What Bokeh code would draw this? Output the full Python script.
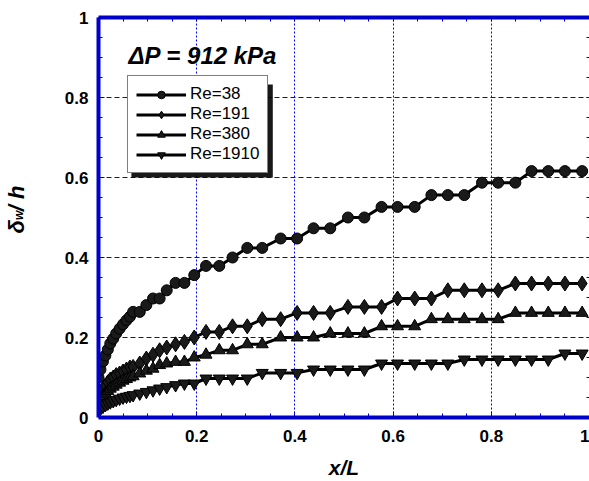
import math
from bokeh.plotting import figure
from bokeh.models import (Range1d, LinearAxis, Legend, LegendItem, Label,
                          BoxAnnotation, FixedTicker)
from bokeh.embed import file_html
from bokeh.resources import INLINE

# ---------------- data ----------------
x_pos = [0, 0.004, 0.009, 0.014, 0.019, 0.024, 0.030, 0.036, 0.043, 0.050,
         0.057, 0.064, 0.0705, 0.084, 0.0975, 0.111, 0.1245, 0.139, 0.157, 0.175,
         0.195, 0.219, 0.246, 0.273, 0.303, 0.3335, 0.371, 0.4045, 0.438, 0.472,
         0.508, 0.5415, 0.5765, 0.609, 0.644, 0.678, 0.7115, 0.745, 0.781, 0.814,
         0.849, 0.882, 0.916, 0.950, 0.985]

re38 = [0.10, 0.12, 0.14, 0.155, 0.17, 0.185, 0.197, 0.21, 0.222, 0.233,
        0.243, 0.252, 0.264, 0.264, 0.281, 0.2975, 0.2975, 0.318, 0.3365, 0.3365,
        0.356, 0.379, 0.379, 0.400, 0.424, 0.424, 0.4475, 0.4475, 0.473, 0.473,
        0.500, 0.500, 0.5265, 0.5265, 0.5265, 0.556, 0.556, 0.556, 0.587, 0.587,
        0.587, 0.616, 0.616, 0.616, 0.616]

re191 = [0.05, 0.062, 0.072, 0.08, 0.088, 0.095, 0.10, 0.106, 0.11, 0.115,
         0.12, 0.125, 0.1265, 0.135, 0.1475, 0.157, 0.168, 0.175, 0.183, 0.189,
         0.20, 0.214, 0.214, 0.228, 0.228, 0.2458, 0.2458, 0.2615, 0.2615, 0.2615,
         0.2765, 0.2765, 0.2765, 0.2975, 0.2975, 0.2975, 0.318, 0.318, 0.318, 0.318,
         0.335, 0.335, 0.335, 0.335, 0.335]

re380 = [0.035, 0.045, 0.053, 0.06, 0.066, 0.072, 0.077, 0.082, 0.087, 0.092,
         0.096, 0.10, 0.103, 0.11, 0.117, 0.122, 0.131, 0.135, 0.139, 0.139,
         0.15, 0.157, 0.168, 0.168, 0.183, 0.183, 0.20, 0.20, 0.20, 0.21,
         0.21, 0.21, 0.228, 0.228, 0.228, 0.2458, 0.2458, 0.2458, 0.2458, 0.2458,
         0.2615, 0.2615, 0.2615, 0.2615, 0.2615]

re1910 = [0.015, 0.022, 0.027, 0.031, 0.035, 0.038, 0.041, 0.044, 0.047, 0.05,
          0.052, 0.054, 0.056, 0.06, 0.064, 0.068, 0.0725, 0.076, 0.081, 0.085,
          0.085, 0.0975, 0.0975, 0.0975, 0.0975, 0.1115, 0.1115, 0.1115, 0.12, 0.12,
          0.12, 0.12, 0.135, 0.135, 0.135, 0.135, 0.135, 0.145, 0.145, 0.145,
          0.145, 0.145, 0.145, 0.16, 0.16]

series_labels = ["Re=38", "Re=191", "Re=380", "Re=1910"]
series_markers = ["circle", "diamond", "triangle", "inverted_triangle"]

tick_vals = [0, 0.2, 0.4, 0.6, 0.8, 1]
tick_labels = ["0", "0.2", "0.4", "0.6", "0.8", "1"]
grid_vals = [0.2, 0.4, 0.6, 0.8]
minor_vals = [0.05, 0.1, 0.15, 0.25, 0.3, 0.35, 0.45, 0.5, 0.55,
              0.65, 0.7, 0.75, 0.85, 0.9, 0.95]

title_text = "ΔP = 912 kPa"
x_title = "x/L"
y_title_main = "δ\u2009\u2009/ h"
y_title_sub = "w"

# ---------------- figure ----------------
BLUE = "#0000CC"
GRID = "#0000FF"
FONT = "Liberation Sans"

p = figure(width=589, height=481, x_range=Range1d(0, 1), y_range=Range1d(0, 1),
           output_backend="svg", toolbar_location=None,
           min_border_left=98, min_border_top=17, min_border_right=0,
           min_border_bottom=64)
p.outline_line_color = None
p.background_fill_color = "white"
p.border_fill_color = "white"


def style_axis(ax):
    ax.ticker = FixedTicker(ticks=tick_vals, minor_ticks=minor_vals)
    ax.axis_line_color = BLUE
    ax.axis_line_width = 4
    ax.major_tick_in = 6
    ax.major_tick_out = 0
    ax.minor_tick_in = 4
    ax.minor_tick_out = 0
    ax.major_tick_line_color = BLUE
    ax.minor_tick_line_color = BLUE
    ax.major_label_text_font = FONT
    ax.major_label_text_font_style = "bold"
    ax.major_label_text_font_size = "17px"
    ax.major_label_text_color = "black"
    ax.major_label_standoff = 10
    ax.major_label_overrides = dict(zip(tick_vals, tick_labels))


def style_bare_axis(ax, line=True):
    # mirror axis: ticks only (all drawn as minor ticks, so there are no labels)
    ax.ticker = FixedTicker(ticks=[], minor_ticks=sorted(tick_vals + minor_vals))
    ax.axis_line_color = BLUE if line else None
    ax.axis_line_width = 4
    ax.major_tick_in = 0
    ax.major_tick_out = 0
    ax.minor_tick_in = 4 if line else 3
    ax.minor_tick_out = 0
    ax.minor_tick_line_color = BLUE
    ax.major_label_standoff = 0


xa = p.xaxis[0]
ya = p.yaxis[0]
style_axis(xa)
style_axis(ya)
xa.major_label_standoff = 12
xa.axis_label = x_title
xa.axis_label_text_font = FONT
xa.axis_label_text_font_style = "bold italic"
xa.axis_label_text_font_size = "21px"
xa.axis_label_text_color = "black"
xa.axis_label_standoff = 11

top_axis = LinearAxis()
style_bare_axis(top_axis, line=True)
p.add_layout(top_axis, "above")

right_axis = LinearAxis()
style_bare_axis(right_axis, line=False)
p.add_layout(right_axis, "right")

p.xgrid.ticker = FixedTicker(ticks=grid_vals)
p.ygrid.ticker = FixedTicker(ticks=grid_vals)
p.xgrid.grid_line_color = GRID
p.xgrid.grid_line_dash = "2 2"
p.xgrid.grid_line_width = 1
p.ygrid.grid_line_color = GRID
p.ygrid.grid_line_dash = "5 3"
p.ygrid.grid_line_width = 1

# ---------------- series ----------------
sizes = {"circle": 11, "diamond": 15, "triangle": 12, "inverted_triangle": 12}
items = []
for ys, lab, mk in zip([re38, re191, re380, re1910], series_labels, series_markers):
    ln = p.line(x_pos, ys, line_color="black", line_width=3)
    sc = p.scatter(x_pos, ys, marker=mk, size=sizes[mk], fill_color="#1a1a1a",
                   line_color="black", line_width=1)
    items.append(LegendItem(label=lab, renderers=[ln, sc]))

# legend shadow
p.add_layout(BoxAnnotation(left=0.067, right=0.355, top=0.8325, bottom=0.60,
                           fill_color="black", fill_alpha=0.9, line_color=None))

legend = Legend(items=items, location=(29, 244))
legend.border_line_color = "black"
legend.border_line_width = 1
legend.background_fill_color = "white"
legend.background_fill_alpha = 1
legend.label_text_font = FONT
legend.label_text_font_size = "17px"
legend.label_text_color = "black"
legend.glyph_width = 50
legend.glyph_height = 19
legend.label_height = 19
legend.spacing = 0
legend.padding = 8
legend.margin = 0
legend.label_standoff = 4
p.add_layout(legend)

# title inside plot
p.add_layout(Label(x=0.061, y=0.905, text=title_text, text_font=FONT,
                   text_color="black",
                   text_font_style="bold italic", text_font_size="24px",
                   text_baseline="alphabetic", text_align="left"))

# y-axis title: delta with subscript w, "/ h" (placed in the left side panel)
ang = math.pi / 2
p.add_layout(Label(x=-0.167, y=0.46, text=y_title_main, angle=ang, text_font=FONT,
                   text_color="black",
                   text_font_style="bold italic", text_font_size="22px",
                   text_baseline="alphabetic", text_align="left"), "left")
p.add_layout(Label(x=-0.161, y=0.494, text=y_title_sub, angle=ang, text_font=FONT,
                   text_color="black",
                   text_font_style="bold italic", text_font_size="12px",
                   text_baseline="alphabetic", text_align="left"), "left")

open("out.html", "w").write(file_html(p, INLINE))
